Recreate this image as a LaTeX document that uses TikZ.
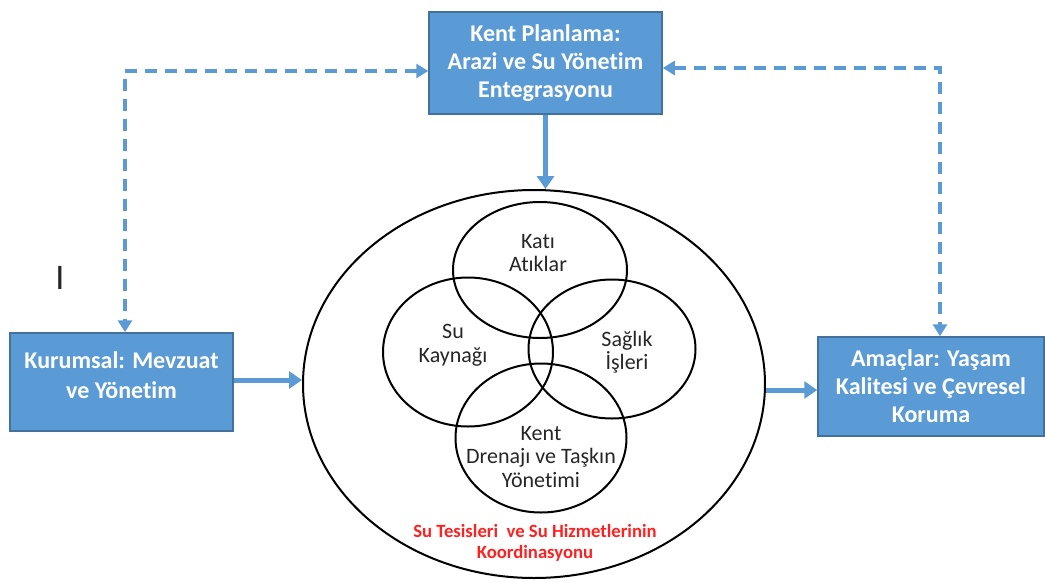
\documentclass[tikz,border=0pt]{standalone}
\usepackage{fontspec}
\setmainfont{Carlito}[Ligatures=NoCommon]
\usetikzlibrary{arrows.meta,shapes.geometric}
\definecolor{boxfill}{HTML}{5B9BD5}
\definecolor{boxline}{HTML}{41719C}
\definecolor{redtxt}{HTML}{FF2020}
\tikzset{
  bluebox/.style={draw=boxline, line width=1.5pt, fill=boxfill, text=white, align=center, inner sep=0pt,
    font=\bfseries\fontsize{24}{28}\selectfont},
  ring/.style={draw=black, line width=2pt, ellipse, inner sep=0pt},
  vlabel/.style={align=center, font=\fontsize{22}{23.5}\selectfont, text=black!85},
  solidarrow/.style={draw=boxfill, line width=5pt, -{Triangle[length=13pt,width=17pt]}},
  dasharrow/.style={draw=boxfill, line width=4pt, dash pattern=on 12pt off 8pt,
    {Triangle[length=12pt,width=14pt]}-{Triangle[length=12pt,width=14pt]}},
}
\begin{document}
\begin{tikzpicture}[x=1pt,y=-1pt]
\useasboundingbox (0,0) rectangle (1045,582);
% boxes
\node[bluebox, minimum width=233pt, minimum height=102pt] (top) at (545.5,63) {Kent Planlama:\\Arazi ve Su Yönetim\\Entegrasyonu};
\node[bluebox, minimum width=223pt, minimum height=98pt] (left) at (121.5,382) {Kurumsal: Mevzuat\\[2pt]ve Yönetim\\[-14pt]\mbox{}};
\node[bluebox, minimum width=226pt, minimum height=99pt] (right) at (931,386.5) {Amaçlar: Yaşam\\Kalitesi ve Çevresel\\Koruma};
% big ellipse
\node[ring, minimum width=462pt, minimum height=388pt] (big) at (534,384) {};
% small ellipses
\node[ring, minimum width=174pt, minimum height=136pt] (c1) at (540,270) {};
\node[ring, minimum width=170pt, minimum height=149pt] (c2) at (468,352) {};
\node[ring, minimum width=167pt, minimum height=139pt] (c3) at (612,349) {};
\node[ring, minimum width=171pt, minimum height=149pt] (c4) at (541,438) {};
% labels
\node[vlabel] (t1) at (538,253) {Katı\\Atıklar};
\node[vlabel] (t2) at (453,345) {Su\\Kaynağı};
\node[vlabel] (t3) at (627,352) {Sağlık\\İşleri};
\node[vlabel] (t4) at (541,457) {Kent\\Drenajı ve Taşkın\\Yönetimi};
\node[align=center, text=redtxt, font=\bfseries\fontsize{18.7}{21.5}\selectfont] (t5) at (535,543) {Su Tesisleri\ \ ve Su Hizmetlerinin\\Koordinasyonu};
\node[font=\fontsize{36}{36}\selectfont, text=black!85] (cursor) at (60,278) {I};
% solid arrows
\draw[solidarrow] (top.south) -- (top.south |- big.north);
\draw[solidarrow] (left.east |- 0,380) -- (big.west |- 0,380);
\draw[solidarrow] (big.east |- 0,390) -- (right.west |- 0,390);
% dashed arrows
\coordinate (cL) at (125,71);
\coordinate (cR) at (940,68);
\draw[dasharrow] (cL -| top.west) -- (cL) -- (cL |- left.north);
\draw[dasharrow] (cR -| top.east) -- (cR) -- (cR |- right.north);
\end{tikzpicture}
\end{document}
